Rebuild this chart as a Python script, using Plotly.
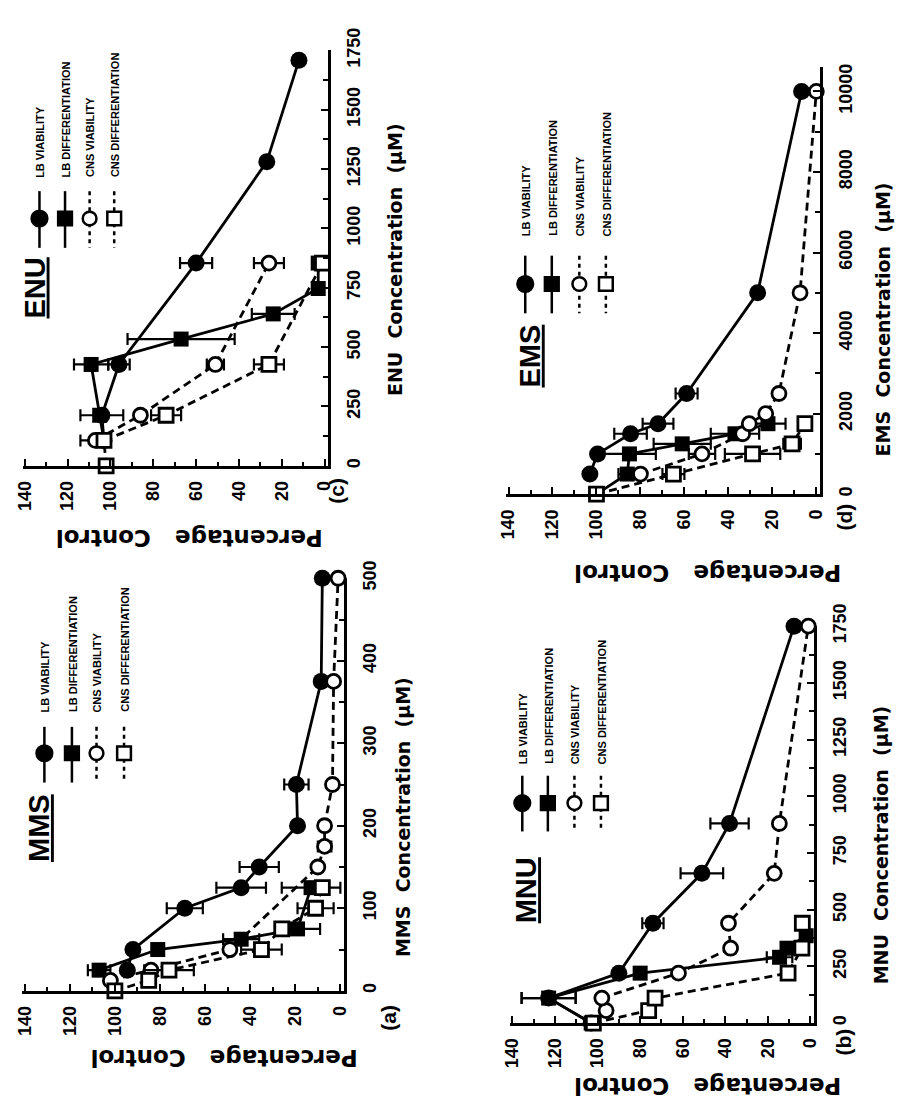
import plotly.graph_objects as go

W, H = 901, 1114

# ---------------- data ----------------
PCT_TICKS = [0, 20, 40, 60, 80, 100, 120, 140]
PCT_MINOR = [10, 30, 50, 70, 90, 110, 130]
SERIES_NAMES = ["LB VIABILITY", "LB DIFFERENTIATION", "CNS VIABILITY", "CNS DIFFERENTIATION"]

# (c) ENU
ENU_LBV_CONC = [107, 213, 427, 854, 1281, 1708]
ENU_LBV_PCT = [103, 104, 96, 60, 27, 12]
ENU_LBV_ERR = [0, 10, 5, 7.5, 0, 0]
ENU_LBD_CONC = [107, 213, 427, 534, 640, 747, 854]
ENU_LBD_PCT = [103, 105, 109, 67, 24, 3, 3]
ENU_LBD_ERR = [0, 0, 8, 25, 10, 0, 0]
ENU_CNV_CONC = [107, 213, 427, 854]
ENU_CNV_PCT = [107, 86, 51, 26]
ENU_CNV_ERR = [7, 0, 4, 7]
ENU_CND_CONC = [0, 107, 213, 427, 854]
ENU_CND_PCT = [102, 103, 74, 26, 1]
ENU_CND_ERR = [0, 0, 7, 7, 0]
ENU_CONC_TICKS = [0, 250, 500, 750, 1000, 1250, 1500, 1750]

# (a) MMS
MMS_LBV_CONC = [25, 50, 100, 125, 150, 200, 250, 375, 500]
MMS_LBV_PCT = [94.5, 92, 69, 44, 36, 19, 19.5, 8.5, 8]
MMS_LBV_ERR = [0, 0, 8, 11, 8.7, 0, 5.4, 0, 0]
MMS_LBD_CONC = [25, 50, 62.5, 75, 125]
MMS_LBD_PCT = [107, 81, 44, 19, 13]
MMS_LBD_ERR = [5, 0, 8, 10, 13]
MMS_CNV_CONC = [12.5, 25, 50, 150, 175, 200, 250, 375, 500]
MMS_CNV_PCT = [102, 84, 49, 10, 7, 7, 3.5, 3, 1]
MMS_CNV_ERR = [0, 0, 0, 0, 3, 0, 0, 0, 0]
MMS_CND_CONC = [0, 12.5, 25, 50, 75, 100, 125]
MMS_CND_PCT = [100, 85, 76, 35, 26, 11, 8]
MMS_CND_ERR = [0, 0, 11, 9, 0, 8, 0]
MMS_CONC_TICKS = [0, 100, 200, 300, 400, 500]

# (d) EMS
EMS_LBV_CONC = [500, 1000, 1500, 1750, 2500, 5000, 10000]
EMS_LBV_PCT = [103, 99.5, 84.5, 72, 59, 26.7, 6.7]
EMS_LBV_ERR = [0, 0, 7.4, 7, 5, 0, 0]
EMS_LBD_CONC = [0, 500, 1000, 1250, 1500, 1750]
EMS_LBD_PCT = [100, 86, 85, 61, 37, 22]
EMS_LBD_ERR = [0, 4, 12, 13, 11, 8]
EMS_CNV_CONC = [500, 1000, 1500, 1750, 2000, 2500, 5000, 10000]
EMS_CNV_PCT = [80, 52, 33.5, 30.5, 23, 17, 7.4, 0]
EMS_CNV_ERR = [0, 6, 0, 0, 0, 0, 0, 0]
EMS_CND_CONC = [0, 500, 1000, 1250, 1750]
EMS_CND_PCT = [100, 65, 29, 11, 5.2]
EMS_CND_ERR = [0, 5, 12.6, 4, 0]
EMS_CONC_TICKS = [0, 2000, 4000, 6000, 8000, 10000]

# (b) MNU
MNU_LBV_CONC = [0, 110, 220, 440, 660, 880, 1750]
MNU_LBV_PCT = [103, 123, 90, 74, 51, 38, 7.7]
MNU_LBV_ERR = [0, 12.7, 0, 5, 10, 9, 0]
MNU_LBD_CONC = [0, 110, 220, 290, 330, 385]
MNU_LBD_PCT = [103, 123, 80, 14.5, 11, 2]
MNU_LBD_ERR = [0, 12.7, 0, 6, 0, 0]
MNU_CNV_CONC = [55, 110, 220, 330, 440, 660, 880, 1750]
MNU_CNV_PCT = [96, 98, 62, 37.5, 38.5, 17, 14.6, 1]
MNU_CNV_ERR = [0, 0, 0, 0, 0, 0, 0, 0]
MNU_CND_CONC = [0, 55, 110, 220, 330, 440]
MNU_CND_PCT = [102, 76, 73, 10.5, 4, 3.8]
MNU_CND_ERR = [0, 0, 0, 0, 0, 0]
MNU_CONC_TICKS = [0, 250, 500, 750, 1000, 1250, 1500, 1750]

# ---------------- layout / style ----------------
FONT = "Liberation Sans, Arial, Helvetica, sans-serif"
WIDEFONT = "DejaVu Sans, Verdana, sans-serif"

PANELS = [
    dict(name="ENU", tag="(c)",
         series=[(ENU_LBV_CONC, ENU_LBV_PCT, ENU_LBV_ERR), (ENU_LBD_CONC, ENU_LBD_PCT, ENU_LBD_ERR),
                 (ENU_CNV_CONC, ENU_CNV_PCT, ENU_CNV_ERR), (ENU_CND_CONC, ENU_CND_PCT, ENU_CND_ERR)],
         cticks=ENU_CONC_TICKS, cminor=125, cmax=1750, crange=1750,
         x140=17, x0=322, y0=453, ytop=28,
         leg_x=[32, 58, 83, 108], leg_line=(172, 230), leg_mark=200, leg_text=160, title=(27, 271),
         ctitle=(393, 242), ptitle=(184, 527), tagpos=(334, 478)),
    dict(name="MMS", tag="(a)",
         series=[(MMS_LBV_CONC, MMS_LBV_PCT, MMS_LBV_ERR), (MMS_LBD_CONC, MMS_LBD_PCT, MMS_LBD_ERR),
                 (MMS_CNV_CONC, MMS_CNV_PCT, MMS_CNV_ERR), (MMS_CND_CONC, MMS_CND_PCT, MMS_CND_ERR)],
         cticks=MMS_CONC_TICKS, cminor=50, cmax=500, crange=500,
         x140=17, x0=338, y0=990, ytop=568,
         leg_x=[37, 65, 90, 118], leg_line=(720, 777), leg_mark=747, leg_text=707, title=(31, 823),
         ctitle=(401, 812), ptitle=(220, 1058), tagpos=(387, 1018)),
    dict(name="EMS", tag="(d)",
         series=[(EMS_LBV_CONC, EMS_LBV_PCT, EMS_LBV_ERR), (EMS_LBD_CONC, EMS_LBD_PCT, EMS_LBD_ERR),
                 (EMS_CNV_CONC, EMS_CNV_PCT, EMS_CNV_ERR), (EMS_CND_CONC, EMS_CND_PCT, EMS_CND_ERR)],
         cticks=EMS_CONC_TICKS, cminor=1000, cmax=10000, crange=10600,
         x140=509, x0=822, y0=482, ytop=70,
         leg_x=[526, 553, 581, 608], leg_line=(238, 297), leg_mark=267, leg_text=220, title=(531, 341),
         ctitle=(890, 303), ptitle=(712, 562), tagpos=(851, 505)),
    dict(name="MNU", tag="(b)",
         series=[(MNU_LBV_CONC, MNU_LBV_PCT, MNU_LBV_ERR), (MNU_LBD_CONC, MNU_LBD_PCT, MNU_LBD_ERR),
                 (MNU_CNV_CONC, MNU_CNV_PCT, MNU_CNV_ERR), (MNU_CND_CONC, MNU_CND_PCT, MNU_CND_ERR)],
         cticks=MNU_CONC_TICKS, cminor=125, cmax=1750, crange=1750,
         x140=513, x0=816, y0=1023, ytop=617,
         leg_x=[523, 549, 576, 603], leg_line=(770, 827), leg_mark=798, leg_text=760, title=(527, 887),
         ctitle=(888, 841), ptitle=(712, 1088), tagpos=(850, 1042)),
]

STYLES = [
    dict(symbol="circle", size=17, fill="black", dash="solid", lw=0),
    dict(symbol="square", size=15, fill="black", dash="solid", lw=0),
    dict(symbol="circle", size=14, fill="white", dash="8px,5px", lw=2.8),
    dict(symbol="square", size=14, fill="white", dash="8px,5px", lw=2.8),
]


def fx(px):
    return px / W


def fy(py):
    return 1 - py / H


fig = go.Figure()
layout = dict(width=W, height=H, margin=dict(l=0, r=0, t=0, b=0),
              paper_bgcolor="white", plot_bgcolor="white", showlegend=False)
shapes, annots = [], []

for i, P in enumerate(PANELS, start=1):
    xid = "x" if i == 1 else f"x{i}"
    yid = "y" if i == 1 else f"y{i}"
    s = (P["x0"] - P["x140"]) / 140.0
    left = P["x140"] - 1.0 * s
    right = P["x0"] + 1.5 * s
    cs = (P["y0"] - P["ytop"]) / P["cmax"]
    top = P["y0"] - P["crange"] * cs

    layout["xaxis" if i == 1 else f"xaxis{i}"] = dict(
        domain=[fx(left), fx(right)], range=[141, -1.5], anchor=yid,
        showline=True, linecolor="black", linewidth=3, mirror=False,
        showgrid=False, zeroline=False,
        ticks="inside", ticklen=7, tickwidth=2, tickcolor="black",
        tickvals=PCT_TICKS, ticktext=[str(v) for v in PCT_TICKS],
        tickangle=-90, ticklabelstandoff=5,
        tickfont=dict(family=FONT, size=18, color="black", weight="bold"),
        minor=dict(tickvals=PCT_MINOR, ticks="inside", ticklen=4, tickwidth=1.5, tickcolor="black"),
    )
    minor_vals = [v for v in range(P["cminor"], P["cmax"], P["cminor"] * 2)]
    layout["yaxis" if i == 1 else f"yaxis{i}"] = dict(
        domain=[fy(P["y0"]), fy(top)], range=[0, P["crange"]], anchor=xid, side="right",
        showline=True, linecolor="black", linewidth=3,
        showgrid=False, zeroline=False,
        ticks="inside", ticklen=7, tickwidth=2, tickcolor="black",
        tickvals=P["cticks"], ticktext=[str(v) for v in P["cticks"]],
        tickangle=-90, ticklabelstandoff=8,
        tickfont=dict(family=FONT, size=18, color="black", weight="bold"),
        minor=dict(tickvals=minor_vals, ticks="inside", ticklen=5, tickwidth=1.5, tickcolor="black"),
    )

    for (conc, pct, err), st in zip(P["series"], STYLES):
        fig.add_trace(go.Scatter(
            x=pct, y=conc, xaxis=xid, yaxis=yid, mode="lines+markers",
            line=dict(color="black", width=2.8, dash=st["dash"]),
            marker=dict(symbol=st["symbol"], size=st["size"], color=st["fill"],
                        line=dict(color="black", width=st["lw"])),
            error_x=dict(type="data", array=err, visible=True, color="black", thickness=2.2, width=6),
            cliponaxis=False, hoverinfo="skip",
        ))

    # ---- legend drawn by hand (rotated like the page) ----
    y1, y2 = P["leg_line"]
    for k, (lx, st, label) in enumerate(zip(P["leg_x"], STYLES, SERIES_NAMES)):
        shapes.append(dict(type="line", xref="paper", yref="paper",
                           x0=fx(lx), x1=fx(lx), y0=fy(y1), y1=fy(y2),
                           line=dict(color="black", width=2.5,
                                     dash="solid" if k < 2 else "4px,4px")))
        r = 8 if k == 0 else 7
        shapes.append(dict(type="circle" if st["symbol"] == "circle" else "rect",
                           xref="paper", yref="paper",
                           x0=fx(lx - r), x1=fx(lx + r), y0=fy(P["leg_mark"] + r), y1=fy(P["leg_mark"] - r),
                           fillcolor=st["fill"], line=dict(color="black", width=2.5)))
        annots.append(dict(xref="paper", yref="paper", x=fx(lx + 1), y=fy(P["leg_text"]),
                           xanchor="center", yanchor="bottom", showarrow=False, textangle=-90,
                           text=label, font=dict(family=FONT, size=11, color="black", weight="bold")))
    annots.append(dict(xref="paper", yref="paper", x=fx(P["title"][0]), y=fy(P["title"][1]),
                       xanchor="center", yanchor="middle", showarrow=False, textangle=-90,
                       text=f"<u>{P['name']}</u>",
                       font=dict(family=FONT, size=29, color="black", weight="bold")))
    annots.append(dict(xref="paper", yref="paper", x=fx(P["ctitle"][0]), y=fy(P["ctitle"][1]),
                       xanchor="center", yanchor="middle", showarrow=False, textangle=-90,
                       text=f"{P['name']}  Concentration  (µM)",
                       font=dict(family=WIDEFONT, size=19, color="black", weight="bold")))
    annots.append(dict(xref="paper", yref="paper", x=fx(P["ptitle"][0]), y=fy(P["ptitle"][1]),
                       xanchor="center", yanchor="middle", showarrow=False, textangle=180,
                       text="Percentage   Control",
                       font=dict(family=WIDEFONT, size=23, color="black", weight="bold")))
    annots.append(dict(xref="paper", yref="paper", x=fx(P["tagpos"][0]), y=fy(P["tagpos"][1]),
                       xanchor="center", yanchor="middle", showarrow=False, textangle=-90,
                       text=P["tag"], font=dict(family=FONT, size=21, color="black", weight="bold")))

layout["shapes"] = shapes
layout["annotations"] = annots
fig.update_layout(**layout)
fig.write_html("out.html")
